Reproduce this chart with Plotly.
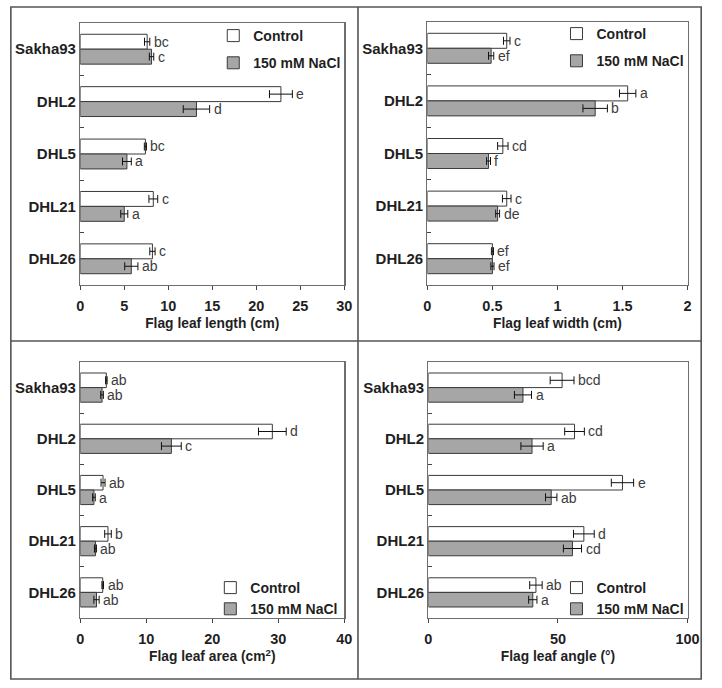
import plotly.graph_objects as go

genotypes = ["Sakha93", "DHL2", "DHL5", "DHL21", "DHL26"]
series_names = ["Control", "150 mM NaCl"]

# Flag leaf length (cm)
len_ctrl = [7.6, 22.8, 7.4, 8.3, 8.2]
len_ctrl_err = [0.3, 1.3, 0.12, 0.5, 0.3]
len_nacl = [8.1, 13.2, 5.3, 5.0, 5.8]
len_nacl_err = [0.25, 1.5, 0.5, 0.4, 0.75]
len_ctrl_let = ["bc", "e", "bc", "c", "c"]
len_nacl_let = ["c", "d", "a", "a", "ab"]

# Flag leaf width (cm)
wid_ctrl = [0.61, 1.54, 0.58, 0.61, 0.50]
wid_ctrl_err = [0.025, 0.063, 0.04, 0.033, 0.008]
wid_nacl = [0.49, 1.29, 0.47, 0.54, 0.50]
wid_nacl_err = [0.02, 0.094, 0.015, 0.015, 0.012]
wid_ctrl_let = ["c", "a", "cd", "c", "ef"]
wid_nacl_let = ["ef", "b", "f", "de", "ef"]

# Flag leaf area (cm2)
area_ctrl = [3.95, 29.1, 3.45, 4.2, 3.4]
area_ctrl_err = [0.12, 2.1, 0.3, 0.5, 0.12]
area_nacl = [3.3, 13.8, 2.07, 2.3, 2.46]
area_nacl_err = [0.2, 1.5, 0.2, 0.15, 0.4]
area_ctrl_let = ["ab", "d", "ab", "b", "ab"]
area_nacl_let = ["ab", "c", "a", "ab", "ab"]

# Flag leaf angle (deg)
ang_ctrl = [51.6, 56.4, 74.9, 60.0, 41.5]
ang_ctrl_err = [4.6, 3.8, 4.3, 4.0, 2.4]
ang_nacl = [36.5, 40.0, 47.4, 55.6, 40.3]
ang_nacl_err = [3.3, 4.3, 2.2, 3.5, 1.6]
ang_ctrl_let = ["bcd", "cd", "e", "d", "ab"]
ang_nacl_let = ["a", "a", "ab", "cd", "a"]

x_titles = ["Flag leaf length (cm)", "Flag leaf width (cm)",
            "Flag leaf area (cm<sup>2</sup>)", "Flag leaf angle (°)"]
x_ranges = [[0, 30], [0, 2], [0, 40], [0, 100]]
x_dticks = [5, 0.5, 10, 50]

panels = [
    (len_ctrl, len_ctrl_err, len_nacl, len_nacl_err, len_ctrl_let, len_nacl_let),
    (wid_ctrl, wid_ctrl_err, wid_nacl, wid_nacl_err, wid_ctrl_let, wid_nacl_let),
    (area_ctrl, area_ctrl_err, area_nacl, area_nacl_err, area_ctrl_let, area_nacl_let),
    (ang_ctrl, ang_ctrl_err, ang_nacl, ang_nacl_err, ang_ctrl_let, ang_nacl_let),
]

W, H = 722, 688
# plot areas in pixels (x0, x1, y0, y1) from top-left
areas = [(78, 348, 23, 285), (433, 699, 22, 285), (78, 348, 362, 618), (434, 699, 362, 618)]
# legend anchor (text start x, first item top y, group gap) in pixels
legend_pos = [(256, 20, 6), (607, 18, 6), (253, 572, 0), (607, 572, 0)]

FONT = "Liberation Sans, Arial, sans-serif"
TXT = "#1f1f1f"
fig = go.Figure()
layout = dict(
    width=W, height=H, margin=dict(l=0, r=0, t=0, b=0),
    paper_bgcolor="white", plot_bgcolor="white",
    barmode="group", bargap=0.43, bargroupgap=0,
    showlegend=True,
    font=dict(family=FONT, color=TXT),
)
annotations = []
for i, (c, ce, n, ne, cl, nl) in enumerate(panels):
    k = "" if i == 0 else str(i + 1)
    xa, ya = "x" + k, "y" + k
    lg = "legend" + k
    fig.add_trace(go.Bar(
        y=genotypes, x=c, orientation="h", name=series_names[0],
        marker=dict(color="white", line=dict(color="#3a3a3a", width=1)),
        error_x=dict(type="data", array=ce, color="#111", thickness=1, width=4),
        xaxis=xa, yaxis=ya, legend=lg, legendgroup="c" + k,
    ))
    fig.add_trace(go.Bar(
        y=genotypes, x=n, orientation="h", name=series_names[1],
        marker=dict(color="#a6a6a6", line=dict(color="#3a3a3a", width=1)),
        error_x=dict(type="data", array=ne, color="#111", thickness=1, width=4),
        xaxis=xa, yaxis=ya, legend=lg, legendgroup="n" + k,
    ))
    x0, x1, y0, y1 = areas[i]
    layout["xaxis" + k] = dict(
        domain=[x0 / W, x1 / W], anchor=ya, range=x_ranges[i], dtick=x_dticks[i],
        showgrid=False, zeroline=False, showline=True, mirror=True,
        linecolor="#6e6e6e", linewidth=1.3, ticks="outside", ticklen=4,
        tickcolor="#444", tickfont=dict(size=14.5, weight="bold", color=TXT),
        ticklabelstandoff=3,
        title=dict(text=x_titles[i], standoff=5,
                   font=dict(size=13.8, weight="bold", color=TXT)),
        fixedrange=True,
    )
    layout["yaxis" + k] = dict(
        domain=[1 - y1 / H, 1 - y0 / H], anchor=xa, type="category",
        autorange="reversed", showgrid=False, zeroline=False, showline=True,
        mirror=True, linecolor="#6e6e6e", linewidth=1.3, ticks="inside",
        ticklen=4, tickcolor="#444", tickson="boundaries",
        tickfont=dict(size=15, weight="bold", color=TXT), fixedrange=True,
    )
    lx, ly, gap = legend_pos[i]
    layout[lg] = dict(
        x=(lx - 42) / W, y=1 - ly / H, xanchor="left", yanchor="top",
        bgcolor="rgba(0,0,0,0)", tracegroupgap=gap, itemwidth=30,
        font=dict(size=14, weight="bold", color=TXT),
    )
    for vals, errs, lets, shift in ((c, ce, cl, 7.5), (n, ne, nl, -7.5)):
        for g, v, e, t in zip(genotypes, vals, errs, lets):
            annotations.append(dict(
                x=v + e, y=g, xref=xa, yref=ya, text=t, showarrow=False,
                xanchor="left", yanchor="middle", xshift=2, yshift=shift,
                font=dict(size=14, color="#3c3c3c", family=FONT),
            ))

layout["annotations"] = annotations
# outer frame and panel dividers
frame = dict(color="#555555", width=1.6)
layout["shapes"] = [
    dict(type="rect", xref="paper", yref="paper", x0=7 / W, x1=713 / W,
         y0=1 - 679 / H, y1=1 - 7 / H, line=frame),
    dict(type="line", xref="paper", yref="paper", x0=362 / W, x1=362 / W,
         y0=1 - 679 / H, y1=1 - 7 / H, line=frame),
    dict(type="line", xref="paper", yref="paper", x0=7 / W, x1=713 / W,
         y0=1 - 341 / H, y1=1 - 341 / H, line=frame),
]
fig.update_layout(**layout)
fig.write_html(
    "out.html",
    config={"displayModeBar": False, "staticPlot": True},
    post_script="document.body.style.margin='0';document.body.style.overflow='hidden';",
)
